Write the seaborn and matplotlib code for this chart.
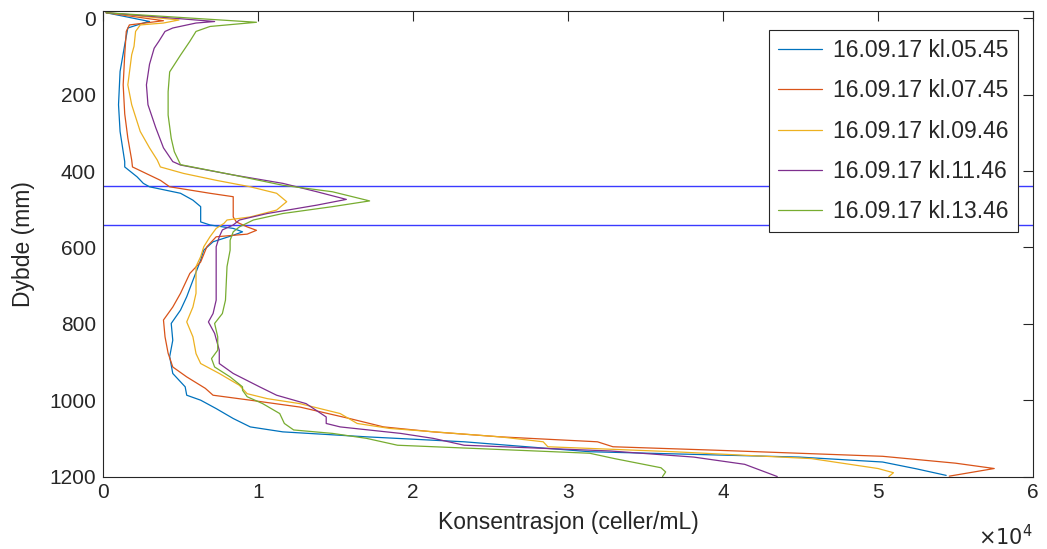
import numpy as np
import pandas as pd
import matplotlib
matplotlib.use("Agg")
import matplotlib.pyplot as plt
import seaborn as sns
from matplotlib.ticker import FuncFormatter, MultipleLocator

# --- Profile data (depth in mm, concentration in 10^4 cells/mL) ---
labels = ['16.09.17 kl.05.45', '16.09.17 kl.07.45', '16.09.17 kl.09.46',
          '16.09.17 kl.11.46', '16.09.17 kl.13.46']

depth_0545 = [-15, 8, 12, 25, 69, 139, 226, 296, 375, 389, 415, 432, 441, 458, 476,
              493, 520, 533, 541, 550, 559, 568, 585, 607, 633, 686, 729, 764, 799,
              843, 886, 930, 965, 987, 1000, 1022, 1048, 1070, 1083, 1096, 1109,
              1135, 1149, 1162, 1180, 1197]
conc_0545 = [0.02, 0.30, 0.26, 0.16, 0.14, 0.11, 0.10, 0.11, 0.14, 0.14, 0.22, 0.26,
             0.30, 0.50, 0.58, 0.63, 0.63, 0.63, 0.69, 0.84, 0.90, 0.84, 0.71, 0.65,
             0.63, 0.58, 0.54, 0.50, 0.44, 0.45, 0.43, 0.45, 0.53, 0.54, 0.63, 0.73,
             0.84, 0.95, 1.16, 1.70, 2.33, 3.14, 4.49, 5.03, 5.25, 5.44]

depth_0745 = [-15, 6, 17, 34, 95, 174, 250, 313, 371, 389, 424, 441, 458, 467, 493,
              520, 533, 546, 555, 565, 572, 598, 638, 668, 720, 756, 790, 834, 877,
              913, 939, 969, 987, 1000, 1018, 1048, 1070, 1083, 1096, 1109, 1122,
              1131, 1147, 1165, 1179, 1199]
conc_0745 = [0.02, 0.39, 0.17, 0.15, 0.14, 0.13, 0.14, 0.16, 0.185, 0.19, 0.37, 0.43,
             0.69, 0.84, 0.84, 0.84, 0.86, 0.93, 0.99, 0.93, 0.73, 0.67, 0.63, 0.56,
             0.50, 0.45, 0.39, 0.40, 0.42, 0.45, 0.54, 0.66, 0.71, 0.95, 1.27, 1.59,
             1.81, 2.13, 2.56, 3.19, 3.29, 3.95, 5.03, 5.50, 5.75, 5.46]

depth_0946 = [-15, 4, 12, 17, 34, 73, 95, 174, 226, 296, 339, 371, 389, 406, 424,
              441, 458, 480, 502, 520, 528, 537, 550, 572, 598, 624, 650, 686, 720,
              756, 795, 834, 878, 904, 930, 961, 983, 996, 1009, 1035, 1061, 1074,
              1096, 1109, 1122, 1135, 1153, 1179, 1190, 1200]
conc_0946 = [0.02, 0.49, 0.39, 0.24, 0.21, 0.20, 0.185, 0.16, 0.185, 0.24, 0.30, 0.35,
             0.37, 0.52, 0.73, 0.95, 1.12, 1.185, 1.12, 0.95, 0.80, 0.78, 0.73, 0.69,
             0.65, 0.63, 0.60, 0.60, 0.60, 0.58, 0.54, 0.58, 0.60, 0.63, 0.75, 0.88,
             0.93, 1.06, 1.27, 1.53, 1.64, 1.85, 2.56, 2.84, 2.87, 3.68, 4.57, 5.00,
             5.10, 5.07]

depth_1146 = [-15, 8, 12, 25, 34, 60, 78, 120, 174, 226, 286, 339, 375, 384, 410,
              432, 454, 474, 489, 511, 528, 541, 554, 572, 598, 659, 738, 773, 795,
              825, 869, 904, 930, 965, 987, 1009, 1044, 1061, 1070, 1087, 1100, 1118,
              1133, 1149, 1168, 1200]
conc_1146 = [0.02, 0.72, 0.60, 0.45, 0.40, 0.36, 0.33, 0.30, 0.28, 0.29, 0.34, 0.39,
             0.45, 0.50, 0.84, 1.16, 1.38, 1.57, 1.38, 1.06, 0.88, 0.84, 0.77, 0.75,
             0.73, 0.73, 0.73, 0.71, 0.68, 0.72, 0.75, 0.75, 0.84, 1.01, 1.12, 1.31,
             1.44, 1.44, 1.53, 1.92, 2.13, 2.33, 3.27, 3.81, 4.14, 4.35]

depth_1346 = [-15, 10, 21, 34, 60, 78, 96, 140, 192, 253, 314, 349, 383, 410, 437,
              454, 478, 493, 511, 528, 546, 559, 581, 607, 650, 738, 773, 799, 834,
              869, 891, 913, 939, 965, 974, 991, 1009, 1035, 1061, 1078, 1087, 1100,
              1118, 1139, 1153, 1177, 1188, 1200]
conc_1346 = [0.02, 0.99, 0.69, 0.60, 0.56, 0.53, 0.50, 0.43, 0.42, 0.42, 0.44, 0.46,
             0.50, 0.84, 1.16, 1.48, 1.72, 1.48, 1.16, 0.97, 0.88, 0.84, 0.82, 0.82,
             0.80, 0.79, 0.77, 0.72, 0.74, 0.74, 0.70, 0.72, 0.82, 0.90, 0.90, 0.93,
             1.03, 1.14, 1.17, 1.23, 1.48, 1.70, 1.90, 3.14, 3.30, 3.60, 3.63, 3.61]

layer_limits = [440, 540]  # horizontal markers (mm)

colors = ['#0072BD', '#D95319', '#EDB120', '#7E2F8E', '#77AC30']

depths = [depth_0545, depth_0745, depth_0946, depth_1146, depth_1346]
concs = [conc_0545, conc_0745, conc_0946, conc_1146, conc_1346]
frames = []
for lab, d, c in zip(labels, depths, concs):
    frames.append(pd.DataFrame({'depth': d, 'conc': np.array(c) * 1e4, 'label': lab}))
df = pd.concat(frames, ignore_index=True)

# --- Plot ---
sns.set_style("white")
plt.rcParams['font.family'] = ['Liberation Sans', 'DejaVu Sans']
axc = '#262626'

fig = plt.figure(figsize=(10.47, 5.49), dpi=100)
ax = fig.add_axes([0.0984, 0.132, 0.8882, 0.8483])

sns.lineplot(data=df, x='conc', y='depth', hue='label', hue_order=labels,
             palette=colors, sort=False, estimator=None, linewidth=0.9, ax=ax)

for d in layer_limits:
    ax.axhline(d, color='#3a3aff', linewidth=1.0, zorder=1)

ax.set_xlim(0, 6e4)
ax.set_ylim(1200, -20)
ax.xaxis.set_major_locator(MultipleLocator(1e4))
ax.yaxis.set_major_locator(MultipleLocator(200))
ax.xaxis.set_major_formatter(FuncFormatter(lambda v, p: f"{v / 1e4:g}"))

ax.tick_params(direction='in', length=7, width=0.8, colors=axc, labelsize=15,
               top=True, right=True, pad=5)
for s in ax.spines.values():
    s.set_color(axc)
    s.set_linewidth(0.8)

ax.set_xlabel('Konsentrasjon (celler/mL)', fontsize=16.5, color=axc, labelpad=6)
ax.set_ylabel('Dybde (mm)', fontsize=16.5, color=axc, labelpad=10)
ax.text(1.0, -0.13, r'$\times10^4$', transform=ax.transAxes, ha='right', va='center',
        fontsize=15, color=axc)

leg = ax.legend(loc='upper right', bbox_to_anchor=(0.984, 0.9585), borderaxespad=0,
                fontsize=16.5, frameon=True, fancybox=False, handlelength=1.9,
                handletextpad=0.5, labelspacing=0.75, borderpad=0.4)
leg.get_frame().set_edgecolor(axc)
leg.get_frame().set_linewidth(0.8)
leg.get_frame().set_alpha(1)
leg.set_zorder(5)

fig.savefig('out.png', dpi=100)
